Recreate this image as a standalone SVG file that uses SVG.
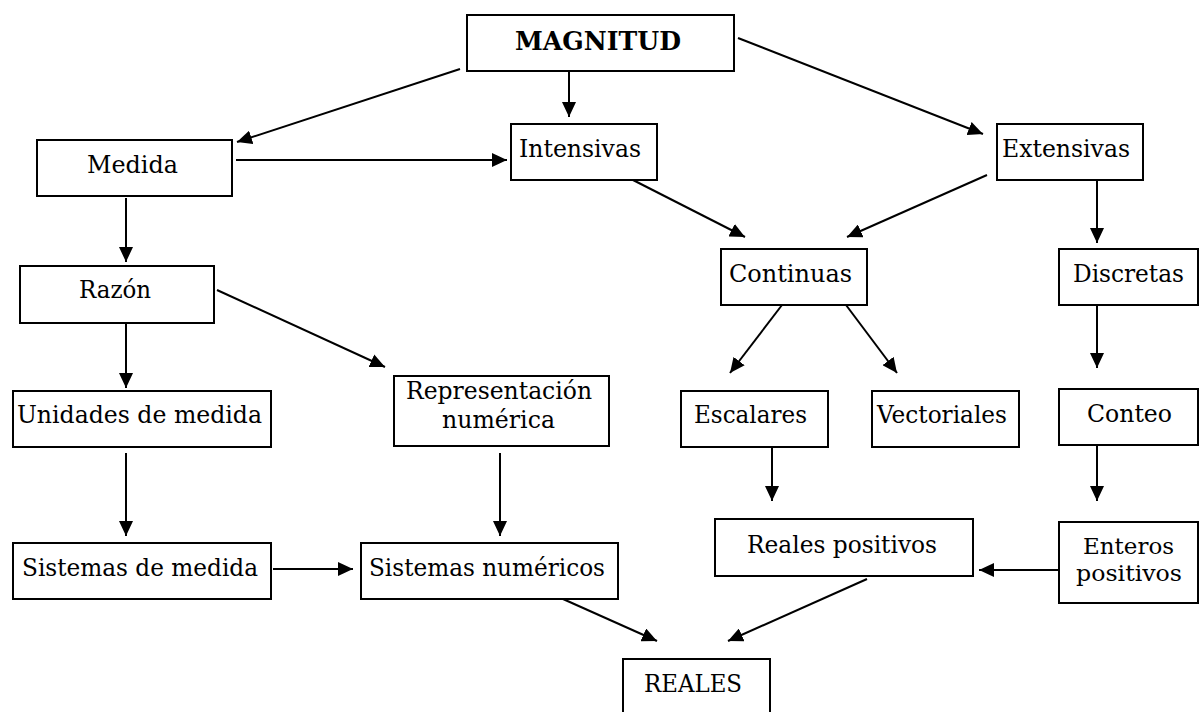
<svg xmlns="http://www.w3.org/2000/svg" width="1199" height="712" viewBox="0 0 1199 712">
<style>
.box{fill:#fff;stroke:#000;stroke-width:2}
.t{font-family:"DejaVu Serif","Liberation Serif",serif;font-size:24px;fill:#000}
.b{font-weight:bold;font-size:26px}
.s{font-size:22px}
.c line{stroke:#000;stroke-width:2;marker-end:url(#ah)}
</style>
<defs>
<marker id="ah" markerUnits="userSpaceOnUse" markerWidth="15" markerHeight="14" refX="15" refY="7" orient="auto">
<path d="M0,0 L15,7 L0,14 z" fill="#000"/>
</marker>
</defs>
<rect width="1199" height="712" fill="#fff"/>
<g class="c" id="connectors">
<line x1="460" y1="69" x2="237" y2="142"/>
<line x1="569" y1="71" x2="569" y2="117"/>
<line x1="738" y1="38" x2="983" y2="134"/>
<line x1="236" y1="160" x2="507" y2="160"/>
<line x1="126" y1="198" x2="126" y2="262"/>
<line x1="633" y1="180" x2="745" y2="237"/>
<line x1="987" y1="175" x2="847" y2="237"/>
<line x1="1097" y1="180" x2="1097" y2="243"/>
<line x1="126" y1="323" x2="126" y2="388"/>
<line x1="217" y1="290" x2="385" y2="367"/>
<line x1="782" y1="305" x2="730" y2="373"/>
<line x1="846" y1="305" x2="897" y2="373"/>
<line x1="1097" y1="305" x2="1097" y2="368"/>
<line x1="126" y1="453" x2="126" y2="536"/>
<line x1="500" y1="453" x2="500" y2="536"/>
<line x1="772" y1="447" x2="772" y2="501"/>
<line x1="1097" y1="445" x2="1097" y2="501"/>
<line x1="273" y1="569" x2="353" y2="569"/>
<line x1="1059" y1="570" x2="979" y2="570"/>
<line x1="563" y1="599" x2="657" y2="641"/>
<line x1="867" y1="579" x2="728" y2="641"/>
</g>
<g id="magnitud"><rect class="box" x="467" y="15" width="267" height="56"/><text class="t b" x="515" y="50" textLength="166" lengthAdjust="spacingAndGlyphs">MAGNITUD</text></g>
<g id="medida"><rect class="box" x="37" y="140" width="195" height="56"/><text class="t" x="87" y="173" textLength="91" lengthAdjust="spacingAndGlyphs">Medida</text></g>
<g id="intensivas"><rect class="box" x="511" y="124" width="146" height="56"/><text class="t" x="519" y="157" textLength="122" lengthAdjust="spacingAndGlyphs">Intensivas</text></g>
<g id="extensivas"><rect class="box" x="997" y="124" width="146" height="56"/><text class="t" x="1002" y="157" textLength="128" lengthAdjust="spacingAndGlyphs">Extensivas</text></g>
<g id="razon"><rect class="box" x="20" y="266" width="194" height="57"/><text class="t" x="79" y="298" textLength="72" lengthAdjust="spacingAndGlyphs">Razón</text></g>
<g id="continuas"><rect class="box" x="721" y="249" width="146" height="56"/><text class="t" x="729" y="282" textLength="123" lengthAdjust="spacingAndGlyphs">Continuas</text></g>
<g id="discretas"><rect class="box" x="1059" y="249" width="139" height="56"/><text class="t" x="1073" y="282" textLength="111" lengthAdjust="spacingAndGlyphs">Discretas</text></g>
<g id="unidades"><rect class="box" x="13" y="391" width="258" height="56"/><text class="t" x="17" y="423" textLength="245" lengthAdjust="spacingAndGlyphs">Unidades de medida</text></g>
<g id="representacion"><rect class="box" x="394" y="376" width="215" height="70"/><text class="t" x="406" y="399" textLength="186" lengthAdjust="spacingAndGlyphs">Representación</text><text class="t" x="442" y="428" textLength="113" lengthAdjust="spacingAndGlyphs">numérica</text></g>
<g id="escalares"><rect class="box" x="681" y="391" width="147" height="56"/><text class="t" x="694" y="423" textLength="113" lengthAdjust="spacingAndGlyphs">Escalares</text></g>
<g id="vectoriales"><rect class="box" x="872" y="391" width="147" height="56"/><text class="t" x="877" y="423" textLength="130" lengthAdjust="spacingAndGlyphs">Vectoriales</text></g>
<g id="conteo"><rect class="box" x="1059" y="389" width="139" height="56"/><text class="t" x="1087" y="422" textLength="85" lengthAdjust="spacingAndGlyphs">Conteo</text></g>
<g id="sistemas-medida"><rect class="box" x="13" y="543" width="258" height="56"/><text class="t" x="22" y="576" textLength="236" lengthAdjust="spacingAndGlyphs">Sistemas de medida</text></g>
<g id="sistemas-numericos"><rect class="box" x="361" y="543" width="257" height="56"/><text class="t" x="369" y="576" textLength="236" lengthAdjust="spacingAndGlyphs">Sistemas numéricos</text></g>
<g id="reales-positivos"><rect class="box" x="715" y="519" width="258" height="57"/><text class="t" x="747" y="553" textLength="190" lengthAdjust="spacingAndGlyphs">Reales positivos</text></g>
<g id="enteros-positivos"><rect class="box" x="1059" y="522" width="139" height="81"/><text class="t s" x="1083" y="554" textLength="91" lengthAdjust="spacingAndGlyphs">Enteros</text><text class="t s" x="1076" y="581" textLength="106" lengthAdjust="spacingAndGlyphs">positivos</text></g>
<g id="reales"><rect class="box" x="623" y="659" width="147" height="60"/><text class="t" x="644" y="692" textLength="98" lengthAdjust="spacingAndGlyphs">REALES</text></g>
</svg>
